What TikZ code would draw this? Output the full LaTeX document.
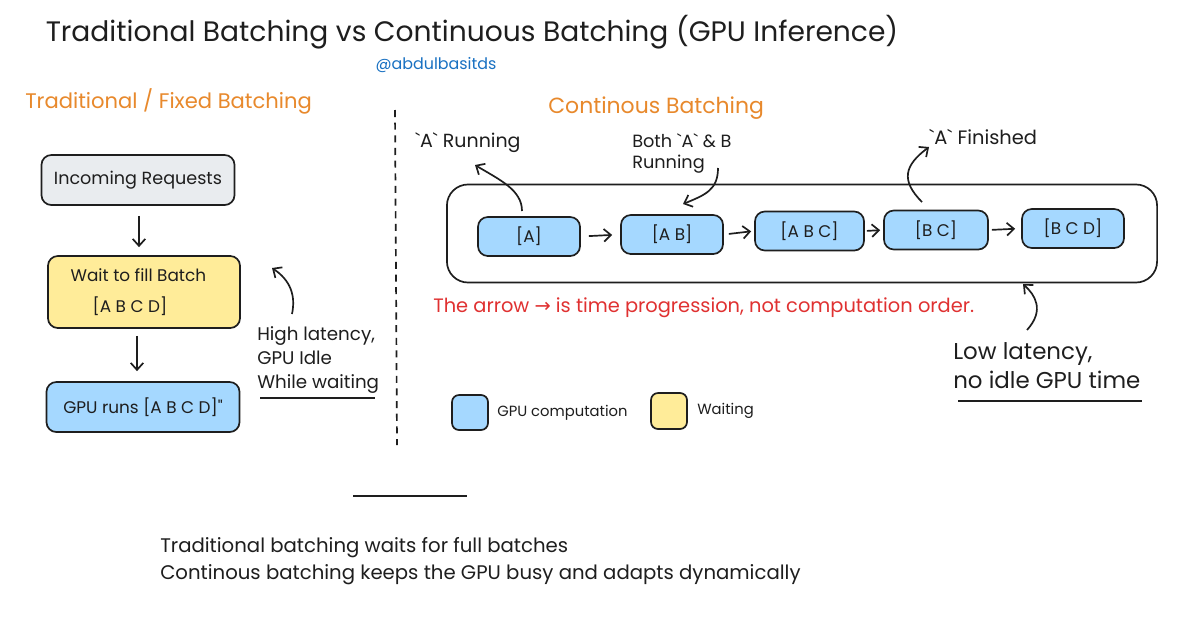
\documentclass[tikz,border=0pt]{standalone}
\usepackage{fontspec}
\setmainfont{Poppins}
\newfontfamily\symfont{DejaVu Sans}
\usetikzlibrary{arrows.meta}
\definecolor{ink}{HTML}{1E1E1E}
\definecolor{orng}{HTML}{E8892C}
\definecolor{handle}{HTML}{1971C2}
\definecolor{redtxt}{HTML}{E03131}
\definecolor{grayfill}{HTML}{E9ECEF}
\definecolor{yellowfill}{HTML}{FFEC99}
\definecolor{bluefill}{HTML}{A5D8FF}
\newcommand{\bq}{\textasciigrave}
\tikzset{
  box/.style={draw=ink, line width=1.2pt, rounded corners=7pt, inner sep=0pt, text=ink},
  tbox/.style={box, minimum width=102\unitpx, minimum height=39\unitpx, fill=bluefill, font=\fontsize{12}{14}\selectfont},
  arr/.style={draw=ink, line width=1.2pt, -{Straight Barb[length=5pt,width=9pt]}},
  txt/.style={text=ink, inner sep=0pt},
  heading/.style={text=orng, inner sep=0pt, font=\fontsize{15}{18}\selectfont},
  body/.style={txt, font=\fontsize{13}{17}\selectfont},
}
\newcommand{\unitpx}{pt*0.7113}
\begin{document}
\begin{tikzpicture}[x=0.025cm,y=-0.025cm]
\useasboundingbox (0,0) rectangle (1200,638);
\fill[white] (0,0) rectangle (1200,638);

% title
\node[txt, font=\fontsize{20}{24}\selectfont] (title) at (472,32) {Traditional Batching vs Continuous Batching (GPU Inference)};
\node[text=handle, inner sep=0pt, font=\fontsize{11.3}{13}\selectfont] (handle) at (436,65) {@abdulbasitds};

% left side
\node[heading, anchor=west] (lhead) at (25,101) {Traditional / Fixed Batching};
\coordinate (dtop) at (395,110);
\coordinate (dbot) at (397,445);
\draw[ink, line width=1.2pt, dash pattern=on 5pt off 4pt] (dtop) -- (dbot);

\node[box, fill=grayfill, minimum width=193\unitpx, minimum height=50\unitpx, font=\fontsize{12.5}{15}\selectfont] (inc) at (138,180) {Incoming Requests};
\node[box, fill=yellowfill, minimum width=192\unitpx, minimum height=72\unitpx, align=center, font=\fontsize{12}{15}\selectfont] (wait) at (144,292) {\hspace*{-8pt}Wait to fill Batch\\[7pt]\hspace*{-20pt}[A B C D]};
\node[box, fill=bluefill, minimum width=193\unitpx, minimum height=50\unitpx, font=\fontsize{12}{15}\selectfont] (gpu) at (143,407) {GPU runs [A B C D]\textquotedbl};
\draw[arr, shorten <=10\unitpx, shorten >=8\unitpx] (inc.south -| 139,0) -- (wait.north -| 139,0);
\draw[arr, shorten <=7\unitpx, shorten >=10\unitpx] (wait.south -| 137,0) -- (gpu.north -| 137,0);

\node[body, anchor=north west, align=left] (high) at (257,326) {High latency,\\GPU Idle\\While waiting};
\coordinate (hs) at (292,314);
\coordinate (he) at (272,268);
\draw[arr] (hs) .. controls (296,295) and (290,280) .. (he);
\coordinate (hu1) at (260,398);
\coordinate (hu2) at (375,398);
\draw[ink, line width=1.4pt] (hu1) -- (hu2);

% right side
\node[heading, anchor=west, font=\fontsize{15.6}{18}\selectfont] (rhead) at (548,108) {Continous Batching};
\node[box, rounded corners=15pt, minimum width=710\unitpx, minimum height=98\unitpx] (cont) at (802,233.5) {};
\node[tbox] (a) at (529,236.5) {[A]};
\node[tbox] (ab) at (672,234.5) {[A B]};
\node[tbox, minimum width=109\unitpx] (abc) at (809.5,231) {[A B C]};
\node[tbox, minimum width=104\unitpx] (bc) at (936,230) {[B C]};
\node[tbox] (bcd) at (1073,228.5) {[B C D]};
\draw[arr, shorten <=8\unitpx, shorten >=8\unitpx] (a.east) -- (ab.west);
\draw[arr, shorten <=5\unitpx, shorten >=3\unitpx] (ab.east) -- (abc.west);
\draw[arr, shorten <=2\unitpx, shorten >=3\unitpx] (abc.east) -- (bc.west);
\draw[arr, shorten <=3\unitpx, shorten >=6\unitpx] (bc.east) -- (bcd.west);

\node[body, anchor=west, font=\fontsize{13.5}{15}\selectfont] (arun) at (415,143) {\bq A\bq\ Running};
\coordinate (as) at (522,211);
\coordinate (ae) at (475,165);
\draw[arr] (as) .. controls (522,190) and (500,180) .. (ae);

\node[body, anchor=north west, align=left, font=\fontsize{12.6}{15.5}\selectfont] (both) at (632,133) {Both \bq A\bq\ \& B\\Running};
\coordinate (bs) at (718,168);
\coordinate (be) at (683,204);
\draw[arr] (bs) .. controls (718,190) and (705,195) .. (be);

\node[body, anchor=west, font=\fontsize{13.8}{15}\selectfont] (afin) at (929,137) {\bq A\bq\ Finished};
\coordinate (fs) at (922,202);
\coordinate (fe) at (929,147);
\draw[arr] (fs) .. controls (900,180) and (905,165) .. (fe);

\node[text=redtxt, inner sep=0pt, anchor=west, font=\fontsize{13.8}{16}\selectfont] (note) at (433,308) {The arrow {\symfont →} is time progression, not computation order.};

\node[txt, anchor=north west, align=left, font=\fontsize{16.3}{21}\selectfont] (low) at (953,342) {Low latency,\\no idle GPU time};
\coordinate (ls) at (1027,330);
\coordinate (le) at (1023,284);
\draw[arr] (ls) .. controls (1045,310) and (1035,295) .. (le);
\coordinate (lu1) at (958,401);
\coordinate (lu2) at (1142,401);
\draw[ink, line width=1.4pt] (lu1) -- (lu2);

% legend
\node[box, fill=bluefill, rounded corners=5pt, minimum width=36\unitpx, minimum height=35\unitpx] (lgb) at (470,412.5) {};
\node[txt, anchor=west, font=\fontsize{10.5}{12}\selectfont] (lgbt) at (497,413) {GPU computation};
\node[box, fill=yellowfill, rounded corners=5pt, minimum width=36\unitpx, minimum height=36\unitpx] (lgy) at (669,411) {};
\node[txt, anchor=west, font=\fontsize{10.5}{12}\selectfont] (lgyt) at (697,411) {Waiting};

% bottom
\coordinate (sl1) at (353,496);
\coordinate (sl2) at (467,496);
\draw[ink, line width=1.6pt] (sl1) -- (sl2);
\node[txt, anchor=north west, align=left, font=\fontsize{14}{19.5}\selectfont] (summary) at (160,537) {Traditional batching waits for full batches\\Continous batching keeps the GPU busy and adapts dynamically};
\end{tikzpicture}
\end{document}
